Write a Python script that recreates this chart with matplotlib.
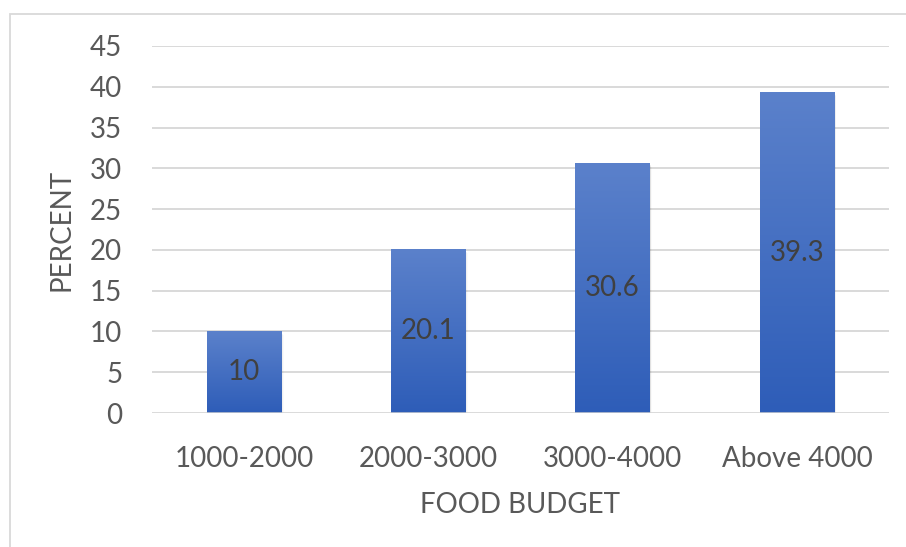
import numpy as np
import matplotlib
matplotlib.use("Agg")
import matplotlib.pyplot as plt
from matplotlib.patches import Rectangle
from matplotlib.colors import LinearSegmentedColormap

plt.rcParams['font.family'] = ['Lato', 'DejaVu Sans']

categories = ['1000-2000', '2000-3000', '3000-4000', 'Above 4000']
percent = [10, 20.1, 30.6, 39.3]
labels = ['10', '20.1', '30.6', '39.3']

TEXT = '#595959'
GRID = '#d9d9d9'
FS = 20

fig = plt.figure(figsize=(9.06, 5.47), dpi=100)
ax = fig.add_axes([152 / 906, 1 - 413 / 547, 737 / 906, 367 / 547])

# outer chart border
fig.patches.append(Rectangle((9.5 / 906, -0.1), 1.0, 1 - 13.5 / 547 + 0.1,
                             transform=fig.transFigure, fill=False,
                             edgecolor=GRID, linewidth=1.3))

x = np.arange(len(categories))
width = 0.405
ax.set_xlim(-0.5, len(categories) - 0.5)
ax.set_ylim(0, 45)

for y in range(5, 50, 5):
    ax.axhline(y, color=GRID, linewidth=1.4, zorder=0)
ax.axhline(0, color='#d0d0d0', linewidth=1.8, zorder=4)

blues = LinearSegmentedColormap.from_list('bar', ['#2e5db8', '#5b81cb'])
grad = np.linspace(0, 1, 256).reshape(-1, 1)

bars = ax.bar(x, percent, width, color='none', zorder=2)
for b, lab in zip(bars, labels):
    bx, bw, bh = b.get_x(), b.get_width(), b.get_height()
    # soft drop shadow
    for k, a in enumerate([0.06, 0.04, 0.02]):
        ax.add_patch(Rectangle((bx + 0.004 * (k + 1), 0), bw, bh - 0.15 * (k + 1),
                               facecolor='black', alpha=a, linewidth=0, zorder=1))
    im = ax.imshow(grad, cmap=blues, origin='lower', aspect='auto',
                   extent=[bx, bx + bw, 0, bh], zorder=2)
    im.set_clip_path(b)
    ax.text(bx + bw / 2, bh / 2, lab, ha='center', va='center',
            fontsize=FS, color='#404040', zorder=3)

ax.set_xticks(x)
ax.set_xticklabels(categories)
ax.set_yticks(range(0, 50, 5))
ax.tick_params(axis='both', length=0, labelsize=FS, labelcolor=TEXT)
ax.tick_params(axis='y', pad=21.5)
ax.tick_params(axis='x', pad=24)
for s in ax.spines.values():
    s.set_visible(False)

ax.set_xlabel('FOOD BUDGET', fontsize=FS, color=TEXT, labelpad=14)
ax.set_ylabel('PERCENT', fontsize=FS, color=TEXT, labelpad=11)

fig.savefig('out.png', dpi=100)
